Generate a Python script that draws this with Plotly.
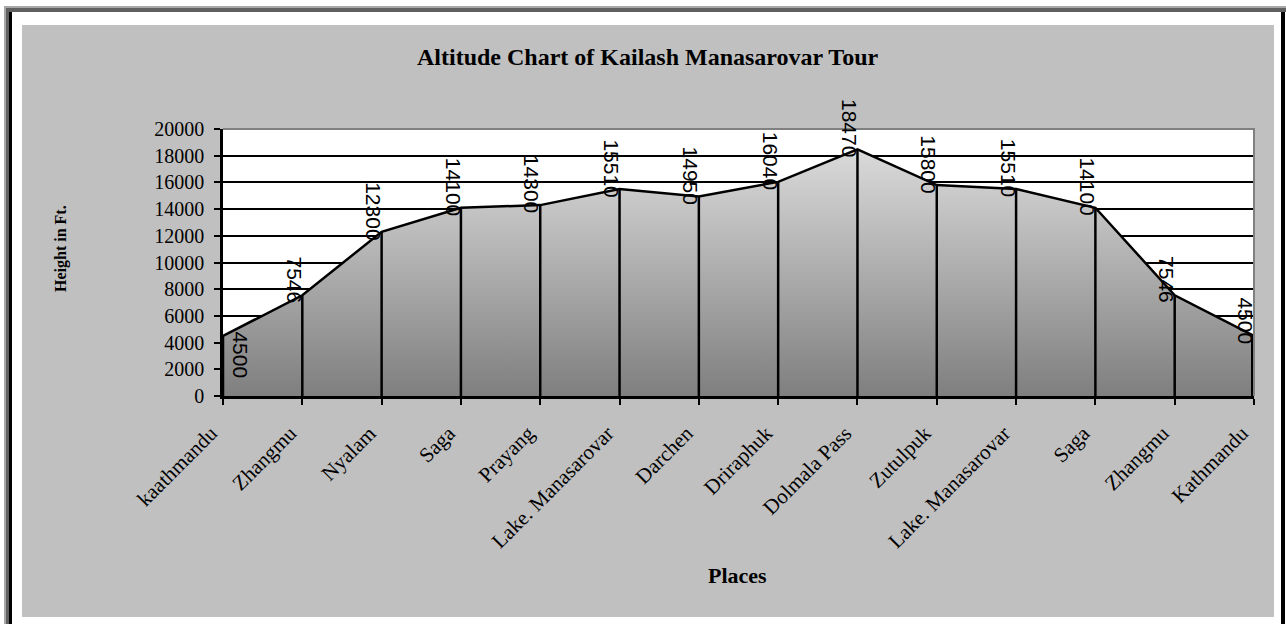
import plotly.graph_objects as go

places = ["kaathmandu", "Zhangmu", "Nyalam", "Saga", "Prayang", "Lake. Manasarovar",
          "Darchen", "Driraphuk", "Dolmala Pass", "Zutulpuk", "Lake. Manasarovar",
          "Saga", "Zhangmu", "Kathmandu"]
heights = [4500, 7546, 12300, 14100, 14300, 15510, 14950, 16040, 18470, 15800,
           15510, 14100, 7546, 4500]
y_ticks = [0, 2000, 4000, 6000, 8000, 10000, 12000, 14000, 16000, 18000, 20000]
title_text = "Altitude Chart of Kailash Manasarovar Tour"
y_title = "Height in Ft."
x_title = "Places"

W, H = 1286, 624
L, R, T, B = 223, 1254, 129, 396  # plot area in pixels
PW, PH = R - L, B - T


def px(x):
    return (x - L) / PW


def py(y):
    return (B - y) / PH


SERIF = "Liberation Serif, Times New Roman, serif"
SANS = "Liberation Sans, Arial, sans-serif"

xs = list(range(len(places)))

fig = go.Figure()
fig.add_trace(go.Scatter(
    x=xs, y=heights, mode="lines", fill="tozeroy",
    fillgradient=dict(type="vertical", colorscale=[[0, "#7f7f7f"], [1, "#dadada"]]),
    line=dict(color="black", width=2.5), hoverinfo="skip", showlegend=False))

drop_x, drop_y = [], []
for i, v in zip(xs, heights):
    drop_x += [i, i, None]
    drop_y += [v, 0, None]
fig.add_trace(go.Scatter(x=drop_x, y=drop_y, mode="lines",
                         line=dict(color="black", width=2.5),
                         hoverinfo="skip", showlegend=False))
# heavier closing line at the last point (as in the original)
fig.add_trace(go.Scatter(x=[xs[-1], xs[-1]], y=[heights[-1], 0], mode="lines",
                         line=dict(color="black", width=6),
                         hoverinfo="skip", showlegend=False))

annotations = []
for i, v in zip(xs, heights):
    if i == 0:
        annotations.append(dict(x=i, y=v, xref="x", yref="y", text=str(v), textangle=90,
                                showarrow=False, xanchor="center", yanchor="top",
                                xshift=18, yshift=7,
                                font=dict(family=SANS, size=21, color="black")))
    else:
        annotations.append(dict(x=i, y=v, xref="x", yref="y", text=str(v), textangle=90,
                                showarrow=False, xanchor="center", yanchor="bottom",
                                xshift=-8, yshift=-10,
                                font=dict(family=SANS, size=21, color="black")))

annotations.append(dict(x=px(648), y=py(57), xref="paper", yref="paper", text="<b>%s</b>" % title_text,
                        showarrow=False, xanchor="center", yanchor="middle",
                        font=dict(family=SERIF, size=24, color="black")))
annotations.append(dict(x=px(61), y=py(249), xref="paper", yref="paper", text="<b>%s</b>" % y_title,
                        showarrow=False, xanchor="center", yanchor="middle", textangle=-90,
                        font=dict(family=SERIF, size=16, color="black")))
annotations.append(dict(x=px(737), y=py(575), xref="paper", yref="paper", text="<b>%s</b>" % x_title,
                        showarrow=False, xanchor="center", yanchor="middle",
                        font=dict(family=SERIF, size=22, color="black")))

shapes = []
# white margins around the grey chart area
for (x0, y0, x1, y1) in [(0, 0, W, 25), (0, 0, 22, H), (1274, 0, W, H), (0, 617, W, H)]:
    shapes.append(dict(type="rect", xref="paper", yref="paper", x0=px(x0), x1=px(x1),
                       y0=py(y0), y1=py(y1), fillcolor="white", line=dict(width=0), layer="above"))


def hline(y, x0, x1, color, w):
    shapes.append(dict(type="line", xref="paper", yref="paper", x0=px(x0), x1=px(x1),
                       y0=py(y), y1=py(y), line=dict(color=color, width=w), layer="above"))


def vline(x, y0, y1, color, w):
    shapes.append(dict(type="line", xref="paper", yref="paper", x0=px(x), x1=px(x),
                       y0=py(y0), y1=py(y1), line=dict(color=color, width=w), layer="above"))


# picture frame
hline(7, 4, W, "#a8a8a8", 2)
hline(10, 6, W, "#606060", 4)
vline(5, 6, H, "#a8a8a8", 2)
vline(7.5, 8, H, "#606060", 3)
vline(10.5, 12, H, "black", 3)
vline(1283, 12, H, "black", 4)
# plot-area border (top and right)
hline(T, L, R + 1, "#808080", 2)
vline(R, T, B, "#808080", 2)

fig.update_layout(
    width=W, height=H,
    margin=dict(l=L, r=W - R, t=T, b=H - B, pad=0),
    paper_bgcolor="#c0c0c0", plot_bgcolor="white",
    showlegend=False,
    annotations=annotations, shapes=shapes,
    xaxis=dict(range=[0, len(places) - 1], tickmode="array", tickvals=xs, ticktext=places,
               tickangle=-45, ticks="outside", ticklen=6, tickwidth=2, tickcolor="black",
               showline=True, linecolor="black", linewidth=2.5, showgrid=False, zeroline=False,
               tickfont=dict(family=SERIF, size=21, color="black"),
               ticklabelstandoff=8, ticklabelshift=-12),
    yaxis=dict(range=[0, 20000], tickmode="array", tickvals=y_ticks, tickformat="d",
               ticks="outside", ticklen=6, tickwidth=2, tickcolor="black",
               showline=True, linecolor="black", linewidth=2.5,
               showgrid=True, gridcolor="black", gridwidth=2, zeroline=False,
               tickfont=dict(family=SERIF, size=20, color="black"), ticklabelstandoff=6),
)

fig.write_html("out.html", config={"displayModeBar": False},
               post_script="document.body.style.margin='0';")
